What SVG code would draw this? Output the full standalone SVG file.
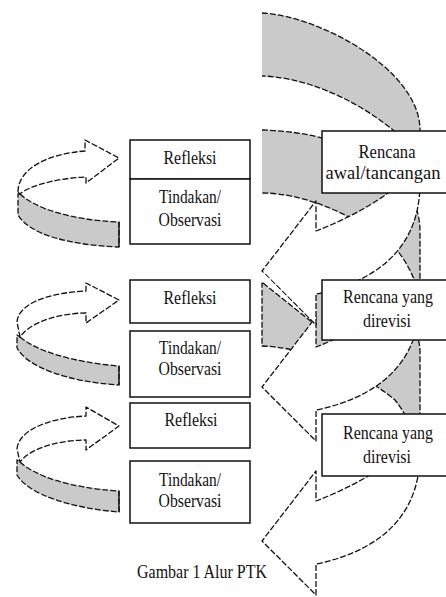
<svg xmlns="http://www.w3.org/2000/svg" width="446" height="597" viewBox="0 0 446 597">
<style>
.g{fill:#cacaca;stroke:#111;stroke-width:1.3;stroke-dasharray:6 2;stroke-linejoin:round}
.w{fill:#fff;stroke:#111;stroke-width:1.3;stroke-dasharray:6 2;stroke-linejoin:round}
.ln{fill:none;stroke:#111;stroke-width:1.3;stroke-dasharray:6 2}
.sl{fill:none;stroke:#111;stroke-width:1.4}
.box{fill:#fff;stroke:#111;stroke-width:1.5}
.t{font-family:'Liberation Serif','Times New Roman',serif;font-size:18.5px;fill:#111;text-anchor:middle}
</style>
<rect width="446" height="597" fill="#fff"/>
<g id="connectors">
  <path class="g" d="M262,13 C320,16 420,70 420,130 L420,183 L416,168 C410,153 403,140 393,130 C350,95 300,77 262,76"/>
  <path class="g" d="M262,283 C340,285 420,300 420,352 L420,453 L416,438 C410,423 403,410 395,400 C352,365 300,347 262,346 Z"/>
  <path class="w" d="M420,453 C420,523 370,553 316,564 L316,595 L262,541 L316,471 L316,501 C355,486 395,463 416,438 Z"/>
  <path class="g" d="M262,130 C345,132 420,168 420,232 L420,299 L416,284 C410,269 403,256 393,246 C350,211 300,193 262,193"/>
  <path class="w" d="M420,299 C420,369 370,399 316,410 L316,441 L262,387 L316,317 L316,347 C355,332 395,309 416,284 Z"/>
  <path class="w" d="M420,183 C420,253 370,283 316,294 L316,325 L262,271 L316,201 L316,231 C355,216 395,193 416,168 Z"/>
  <path d="M262.7,272 L313,323 L262.7,283 Z" fill="#fff"/>
  <path class="ln" d="M263,283 L313,323"/>
  <path class="g" d="M20,194 C35,208 70,220 119,222 L119,247 C70,245 30,235 18,215 L18,194 Z"/>
  <path class="w" d="M18,192 C18,170 45,154 85,151 L85,140 L119,158 L86,183 L86,177 C60,178 30,185 20,194 Z"/>
  <path class="g" d="M20,337 C35,350 70,362 119,366 L119,385 C70,382 28,368 17,348 L17,335 Z"/>
  <path class="w" d="M17,322 C18,305 45,293 86,291 L86,283 L119,300 L86,323 L86,313 C60,313 30,322 20,337 Z"/>
  <path class="g" d="M20,462 C35,476 70,488 119,491 L119,512 C70,508 28,494 17,475 L17,460 Z"/>
  <path class="w" d="M17,449 C18,432 45,418 86,416 L86,407 L119,426 L86,450 L86,440 C60,440 30,448 20,462 Z"/>
  <path class="sl" d="M119,222 L119,247 M119,366 L119,385 M119,491 L119,512"/>
</g>
<g id="node-refleksi-1"><rect class="box" x="130" y="140" width="120" height="39"/><text class="t" font-family="Liberation Serif, serif" x="190" y="164" textLength="53" lengthAdjust="spacingAndGlyphs">Refleksi</text></g>
<g id="node-tindakan-1"><rect class="box" x="130" y="179" width="120" height="65"/><text class="t" font-family="Liberation Serif, serif" x="190" y="203" textLength="62" lengthAdjust="spacingAndGlyphs">Tindakan/</text><text class="t" font-family="Liberation Serif, serif" x="190" y="226" textLength="63" lengthAdjust="spacingAndGlyphs">Observasi</text></g>
<g id="node-refleksi-2"><rect class="box" x="130" y="280" width="120" height="43"/><text class="t" font-family="Liberation Serif, serif" x="190" y="304" textLength="53" lengthAdjust="spacingAndGlyphs">Refleksi</text></g>
<g id="node-tindakan-2"><rect class="box" x="130" y="331" width="120" height="66"/><text class="t" font-family="Liberation Serif, serif" x="190" y="354" textLength="62" lengthAdjust="spacingAndGlyphs">Tindakan/</text><text class="t" font-family="Liberation Serif, serif" x="190" y="375" textLength="63" lengthAdjust="spacingAndGlyphs">Observasi</text></g>
<g id="node-refleksi-3"><rect class="box" x="130" y="403" width="120" height="45"/><text class="t" font-family="Liberation Serif, serif" x="191" y="426" textLength="53" lengthAdjust="spacingAndGlyphs">Refleksi</text></g>
<g id="node-tindakan-3"><rect class="box" x="130" y="461" width="120" height="62"/><text class="t" font-family="Liberation Serif, serif" x="190" y="486" textLength="62" lengthAdjust="spacingAndGlyphs">Tindakan/</text><text class="t" font-family="Liberation Serif, serif" x="190" y="507" textLength="63" lengthAdjust="spacingAndGlyphs">Observasi</text></g>
<g id="node-rencana-awal"><rect class="box" x="322" y="131" width="130" height="62"/><text class="t" font-family="Liberation Serif, serif" x="387" y="158" textLength="57" lengthAdjust="spacingAndGlyphs">Rencana</text><text class="t" font-family="Liberation Serif, serif" x="383" y="179" textLength="115" lengthAdjust="spacingAndGlyphs">awal/tancangan</text></g>
<g id="node-rencana-revisi-1"><rect class="box" x="322" y="280" width="130" height="60"/><text class="t" font-family="Liberation Serif, serif" x="388" y="303" textLength="90" lengthAdjust="spacingAndGlyphs">Rencana yang</text><text class="t" font-family="Liberation Serif, serif" x="387" y="327" textLength="48" lengthAdjust="spacingAndGlyphs">direvisi</text></g>
<g id="node-rencana-revisi-2"><rect class="box" x="322" y="414" width="130" height="62"/><text class="t" font-family="Liberation Serif, serif" x="388" y="439" textLength="90" lengthAdjust="spacingAndGlyphs">Rencana yang</text><text class="t" font-family="Liberation Serif, serif" x="387" y="463" textLength="48" lengthAdjust="spacingAndGlyphs">direvisi</text></g>
<text id="caption" class="t" font-family="Liberation Serif, serif" x="202" y="578" textLength="130" lengthAdjust="spacingAndGlyphs">Gambar 1 Alur PTK</text>
</svg>
